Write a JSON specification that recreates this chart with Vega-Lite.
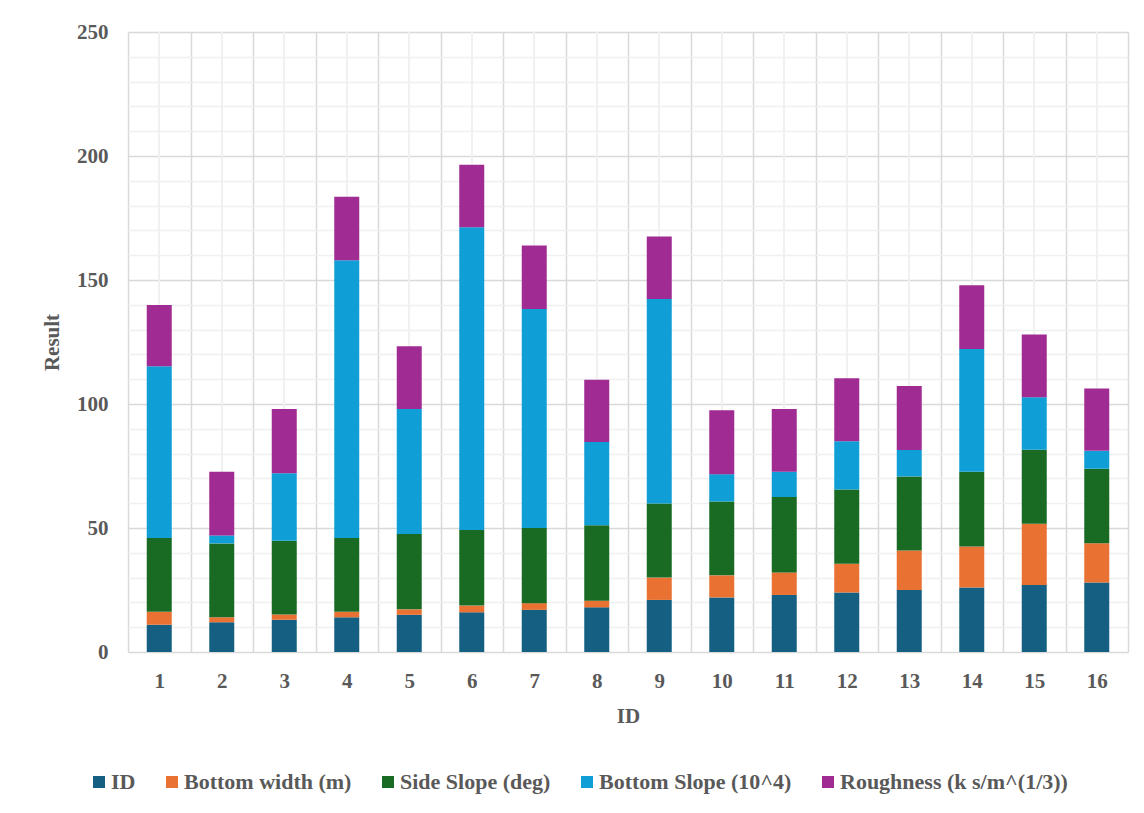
{
  "$schema": "https://vega.github.io/schema/vega-lite/v6.json",
  "width": 1000,
  "height": 620,
  "autosize": {"type": "none"},
  "padding": {"left": 128, "top": 32, "right": 16, "bottom": 161},
  "background": "white",
  "config": {"view": {"stroke": null}, "font": "Liberation Serif"},
  "data": {"values": [
    {"x":1,"series":"ID","k":0,"value":11},{"x":1,"series":"Bottom width (m)","k":1,"value":5.2},{"x":1,"series":"Side Slope (deg)","k":2,"value":29.8},{"x":1,"series":"Bottom Slope (10^4)","k":3,"value":69.2},{"x":1,"series":"Roughness (k s/m^(1/3))","k":4,"value":24.7},
    {"x":2,"series":"ID","k":0,"value":12},{"x":2,"series":"Bottom width (m)","k":1,"value":2.0},{"x":2,"series":"Side Slope (deg)","k":2,"value":29.8},{"x":2,"series":"Bottom Slope (10^4)","k":3,"value":3.2},{"x":2,"series":"Roughness (k s/m^(1/3))","k":4,"value":25.7},
    {"x":3,"series":"ID","k":0,"value":13},{"x":3,"series":"Bottom width (m)","k":1,"value":2.1},{"x":3,"series":"Side Slope (deg)","k":2,"value":29.8},{"x":3,"series":"Bottom Slope (10^4)","k":3,"value":27.2},{"x":3,"series":"Roughness (k s/m^(1/3))","k":4,"value":25.9},
    {"x":4,"series":"ID","k":0,"value":14},{"x":4,"series":"Bottom width (m)","k":1,"value":2.2},{"x":4,"series":"Side Slope (deg)","k":2,"value":29.8},{"x":4,"series":"Bottom Slope (10^4)","k":3,"value":112.0},{"x":4,"series":"Roughness (k s/m^(1/3))","k":4,"value":25.6},
    {"x":5,"series":"ID","k":0,"value":15},{"x":5,"series":"Bottom width (m)","k":1,"value":2.2},{"x":5,"series":"Side Slope (deg)","k":2,"value":30.4},{"x":5,"series":"Bottom Slope (10^4)","k":3,"value":50.4},{"x":5,"series":"Roughness (k s/m^(1/3))","k":4,"value":25.3},
    {"x":6,"series":"ID","k":0,"value":16},{"x":6,"series":"Bottom width (m)","k":1,"value":2.7},{"x":6,"series":"Side Slope (deg)","k":2,"value":30.5},{"x":6,"series":"Bottom Slope (10^4)","k":3,"value":122.1},{"x":6,"series":"Roughness (k s/m^(1/3))","k":4,"value":25.2},
    {"x":7,"series":"ID","k":0,"value":17},{"x":7,"series":"Bottom width (m)","k":1,"value":2.7},{"x":7,"series":"Side Slope (deg)","k":2,"value":30.3},{"x":7,"series":"Bottom Slope (10^4)","k":3,"value":88.3},{"x":7,"series":"Roughness (k s/m^(1/3))","k":4,"value":25.6},
    {"x":8,"series":"ID","k":0,"value":18},{"x":8,"series":"Bottom width (m)","k":1,"value":2.7},{"x":8,"series":"Side Slope (deg)","k":2,"value":30.4},{"x":8,"series":"Bottom Slope (10^4)","k":3,"value":33.6},{"x":8,"series":"Roughness (k s/m^(1/3))","k":4,"value":25.1},
    {"x":9,"series":"ID","k":0,"value":21},{"x":9,"series":"Bottom width (m)","k":1,"value":9.0},{"x":9,"series":"Side Slope (deg)","k":2,"value":29.9},{"x":9,"series":"Bottom Slope (10^4)","k":3,"value":82.4},{"x":9,"series":"Roughness (k s/m^(1/3))","k":4,"value":25.2},
    {"x":10,"series":"ID","k":0,"value":22},{"x":10,"series":"Bottom width (m)","k":1,"value":8.9},{"x":10,"series":"Side Slope (deg)","k":2,"value":29.8},{"x":10,"series":"Bottom Slope (10^4)","k":3,"value":11.0},{"x":10,"series":"Roughness (k s/m^(1/3))","k":4,"value":25.8},
    {"x":11,"series":"ID","k":0,"value":23},{"x":11,"series":"Bottom width (m)","k":1,"value":9.1},{"x":11,"series":"Side Slope (deg)","k":2,"value":30.4},{"x":11,"series":"Bottom Slope (10^4)","k":3,"value":10.2},{"x":11,"series":"Roughness (k s/m^(1/3))","k":4,"value":25.3},
    {"x":12,"series":"ID","k":0,"value":24},{"x":12,"series":"Bottom width (m)","k":1,"value":11.6},{"x":12,"series":"Side Slope (deg)","k":2,"value":29.9},{"x":12,"series":"Bottom Slope (10^4)","k":3,"value":19.5},{"x":12,"series":"Roughness (k s/m^(1/3))","k":4,"value":25.4},
    {"x":13,"series":"ID","k":0,"value":25},{"x":13,"series":"Bottom width (m)","k":1,"value":15.9},{"x":13,"series":"Side Slope (deg)","k":2,"value":29.9},{"x":13,"series":"Bottom Slope (10^4)","k":3,"value":10.7},{"x":13,"series":"Roughness (k s/m^(1/3))","k":4,"value":25.8},
    {"x":14,"series":"ID","k":0,"value":26},{"x":14,"series":"Bottom width (m)","k":1,"value":16.5},{"x":14,"series":"Side Slope (deg)","k":2,"value":30.2},{"x":14,"series":"Bottom Slope (10^4)","k":3,"value":49.5},{"x":14,"series":"Roughness (k s/m^(1/3))","k":4,"value":25.7},
    {"x":15,"series":"ID","k":0,"value":27},{"x":15,"series":"Bottom width (m)","k":1,"value":24.7},{"x":15,"series":"Side Slope (deg)","k":2,"value":29.9},{"x":15,"series":"Bottom Slope (10^4)","k":3,"value":21.1},{"x":15,"series":"Roughness (k s/m^(1/3))","k":4,"value":25.3},
    {"x":16,"series":"ID","k":0,"value":28},{"x":16,"series":"Bottom width (m)","k":1,"value":15.9},{"x":16,"series":"Side Slope (deg)","k":2,"value":30.0},{"x":16,"series":"Bottom Slope (10^4)","k":3,"value":7.2},{"x":16,"series":"Roughness (k s/m^(1/3))","k":4,"value":25.2}
  ]},
  "encoding": {
    "x": {
      "field": "x", "type": "ordinal",
      "scale": {"paddingInner": 0, "paddingOuter": 0},
      "axis": {
        "title": "ID", "titleFontSize": 21, "titleFontWeight": "bold", "titleColor": "#595959", "titlePadding": 14,
        "labelAngle": 0, "labelFontSize": 21, "labelFontWeight": "bold", "labelColor": "#595959", "labelPadding": 18,
        "ticks": false, "domain": false, "tickBand": "extent",
        "grid": true, "gridColor": "#d9d9d9", "gridWidth": 1.5
      }
    }
  },
  "layer": [
    {
      "mark": {"type": "rule", "color": "#f0f0f0", "strokeWidth": 1.3},
      "encoding": {}
    },
    {
      "mark": {"type": "bar", "width": {"band": 0.4}},
      "encoding": {
        "y": {
          "field": "value", "type": "quantitative", "stack": "zero",
          "scale": {"domain": [0, 250], "nice": false},
          "axis": {
            "title": "Result", "titleFontSize": 21, "titleFontWeight": "bold", "titleColor": "#595959", "titlePadding": 14,
            "values": [0,10,20,30,40,50,60,70,80,90,100,110,120,130,140,150,160,170,180,190,200,210,220,230,240,250],
            "labelExpr": "datum.value % 50 === 0 ? datum.label : ''",
            "labelFontSize": 21, "labelFontWeight": "bold", "labelColor": "#595959", "labelPadding": 20,
            "ticks": false, "domain": false,
            "gridColor": {"condition": {"test": "datum.value % 50 === 0", "value": "#d9d9d9"}, "value": "#f0f0f0"},
            "gridWidth": {"condition": {"test": "datum.value % 50 === 0", "value": 1.5}, "value": 1.3}
          }
        },
        "color": {
          "field": "series", "type": "nominal",
          "sort": ["ID", "Bottom width (m)", "Side Slope (deg)", "Bottom Slope (10^4)", "Roughness (k s/m^(1/3))"],
          "scale": {
            "domain": ["ID", "Bottom width (m)", "Side Slope (deg)", "Bottom Slope (10^4)", "Roughness (k s/m^(1/3))"],
            "range": ["#156082", "#E97132", "#196B24", "#0F9ED5", "#A02B93"]
          },
          "legend": {
            "title": null, "orient": "none", "direction": "horizontal", "legendX": -40, "legendY": 739,
            "symbolType": "square", "symbolSize": 144, "symbolStrokeWidth": 0,
            "labelFontSize": 22, "labelFontWeight": "bold", "labelColor": "#595959", "labelOffset": 1,
            "columnPadding": 25, "labelLimit": 400
          }
        },
        "order": {"field": "k", "type": "quantitative"}
      }
    }
  ]
}
